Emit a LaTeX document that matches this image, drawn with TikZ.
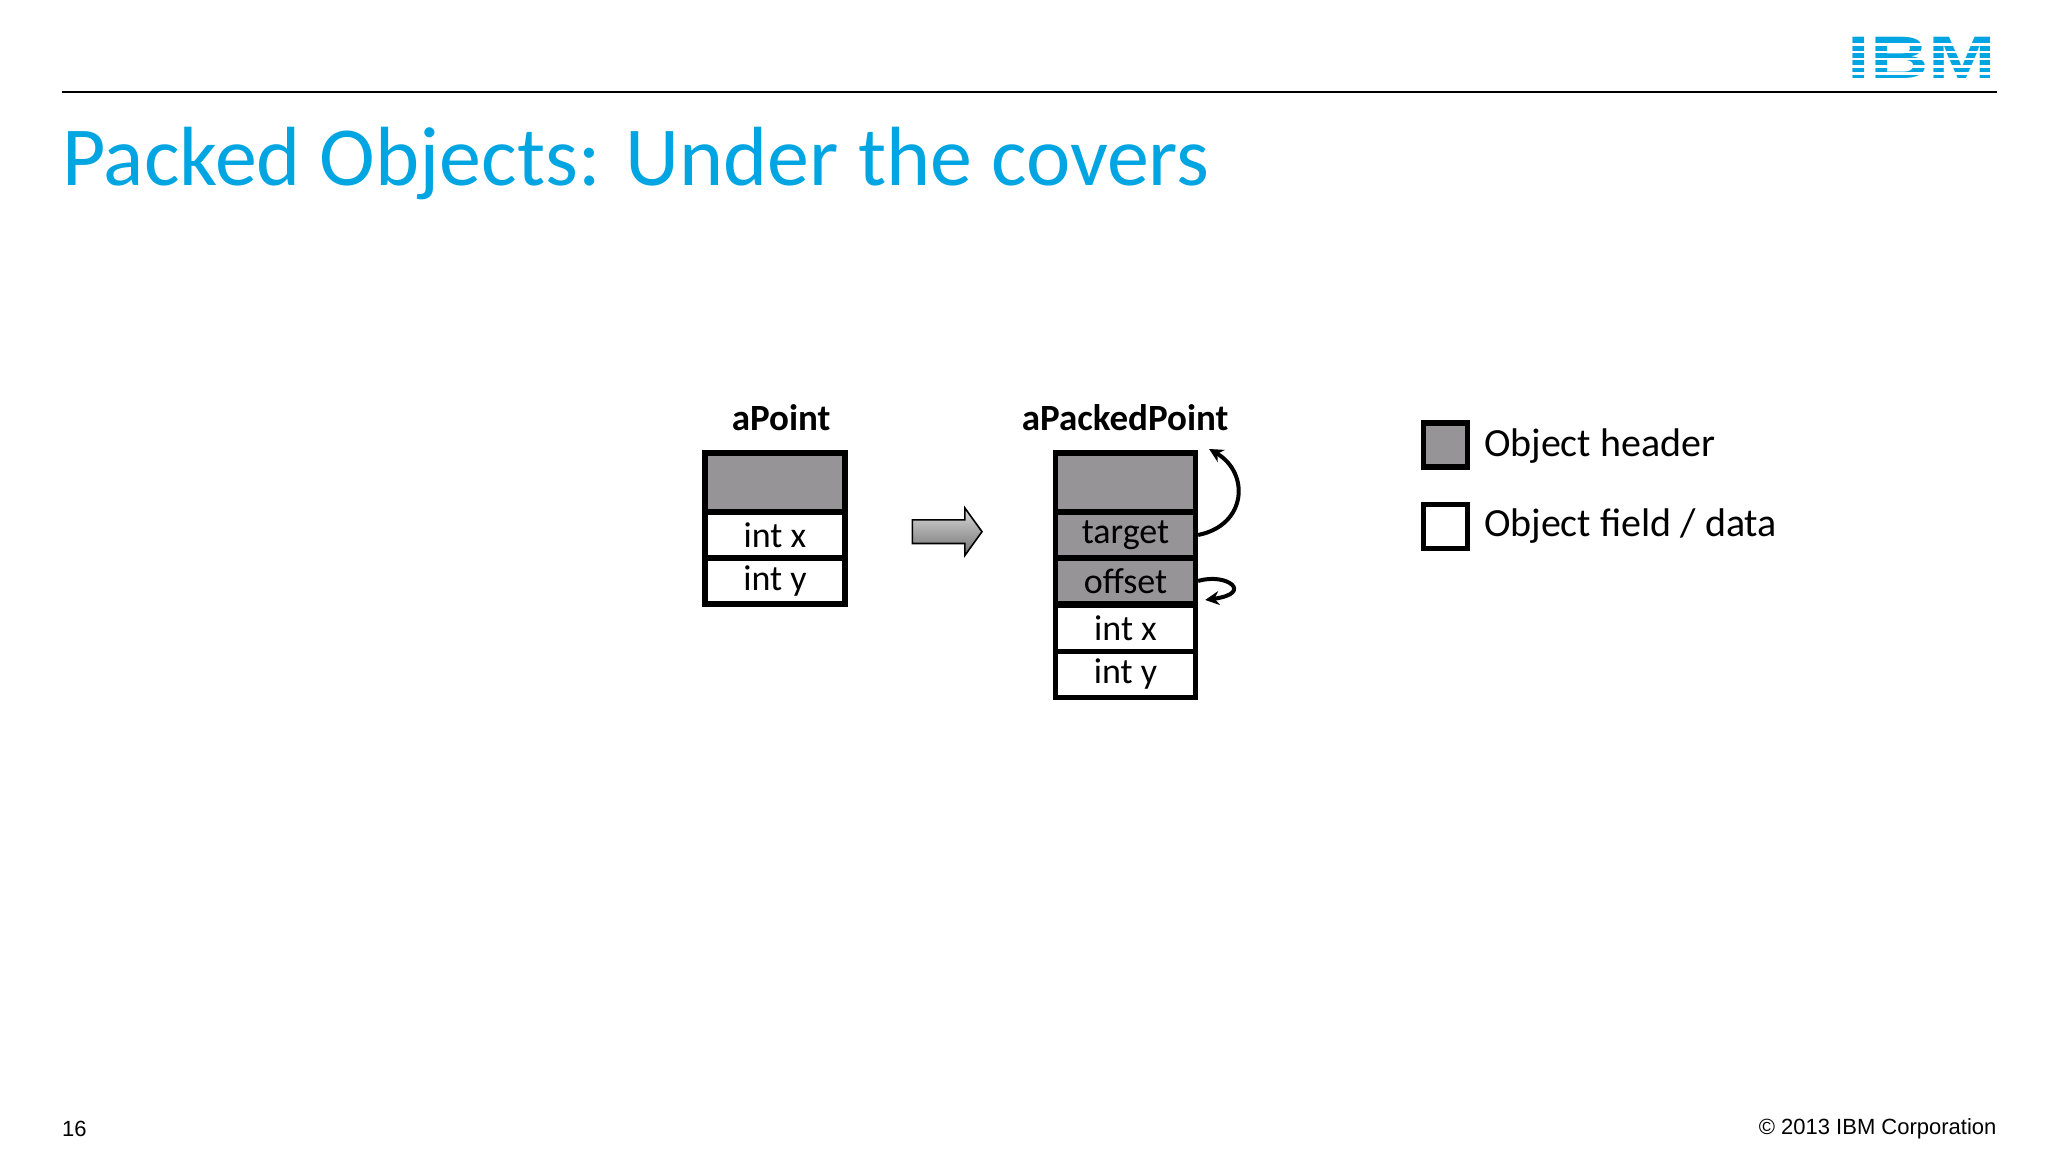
\documentclass[tikz,border=0pt]{standalone}
\usepackage{fontspec}
\setmainfont{Carlito}
\newfontfamily\arialf{Liberation Sans}
\usetikzlibrary{arrows.meta,shadings}
\definecolor{ibmblue}{RGB}{0,165,225}
\definecolor{cellgray}{RGB}{150,148,150}
\tikzset{
  cellbox/.style={draw=black,line width=2.6pt,minimum width=70pt,inner sep=0pt,font=\fontsize{18}{18}\selectfont,anchor=north west},
  hdr/.style={cellbox,fill=cellgray,minimum height=29.5pt},
  row/.style={cellbox,minimum height=23pt},
  grayrow/.style={row,fill=cellgray},
  ttl/.style={font=\bfseries\fontsize{18.5}{18.5}\selectfont},
  leg/.style={draw=black,line width=2.6pt,minimum width=22pt,minimum height=22pt,inner sep=0pt},
  legtxt/.style={anchor=west,font=\fontsize{20}{20}\selectfont},
  curv/.style={line width=2pt,-{Stealth[length=7pt,width=7pt]}}
}
\begin{document}
\begin{tikzpicture}[x=0.6564pt,y=-0.6564pt]
\useasboundingbox (0,0) rectangle (1560,877.5);
\fill[white] (0,0) rectangle (1560,877.5);
% header rule and logo
\draw[line width=1pt] (47,70) -- (1521,70);
\node[anchor=east,inner sep=0pt,text=ibmblue,font=\arialf\bfseries\fontsize{30}{30}\selectfont,scale=1.0,xscale=1.35] (logo) at (1521,44) {IBM};
\foreach \yy in {33,38.5,44,49.5,55}{\fill[white] (1410,\yy) rectangle (1525,\yy+2);}
% title
\node[anchor=base west,inner sep=0pt,text=ibmblue,font=\fontsize{42}{42}\selectfont] (title) at (47,141) {Packed Objects: Under the covers};
% aPoint
\node[ttl] (t1) at (595,318) {aPoint};
\node[hdr] (a0) at (535,343) {};
\node[row] (a1) at (535,388) {int x};
\node[row] (a2) at (535,423) {int y};
% arrow
\shade[top color=gray!30,bottom color=gray!90!black,draw=black,line width=0.8pt]
 (695,396) -- (735,396) -- (735,387) -- (748,405) -- (735,423) -- (735,414) -- (695,414) -- cycle;
\coordinate (arr) at (721,405);
% aPackedPoint
\node[ttl] (t2) at (857,318) {aPackedPoint};
\node[hdr] (b0) at (802,343) {};
\node[grayrow] (b1) at (802,388) {target};
\node[grayrow] (b2) at (802,423) {offset};
\node[row] (b3) at (802,459) {int x};
\node[row] (b4) at (802,494) {int y};
\coordinate (tgtend) at (921,342);
\coordinate (offend) at (918,457);
\draw[curv] (b1.east) .. controls (950,400) and (952,360) .. (tgtend);
\draw[curv] (b2.east) .. controls (935,436) and (955,452) .. (offend);
% legend
\node[leg,fill=cellgray] (l1) at (1101,339) {};
\node[legtxt] (l1t) at (1125,340) {Object header};
\node[leg,fill=white] (l2) at (1101,401) {};
\node[legtxt] (l2t) at (1125,401) {Object field / data};
% footer
\node[anchor=west,inner sep=0pt,font=\arialf\fontsize{11}{11}\selectfont] (pg) at (47,860) {16};
\node[anchor=east,inner sep=0pt,font=\arialf\fontsize{11}{11}\selectfont] (cp) at (1521,860) {© 2013 IBM Corporation};
\end{tikzpicture}
\end{document}
